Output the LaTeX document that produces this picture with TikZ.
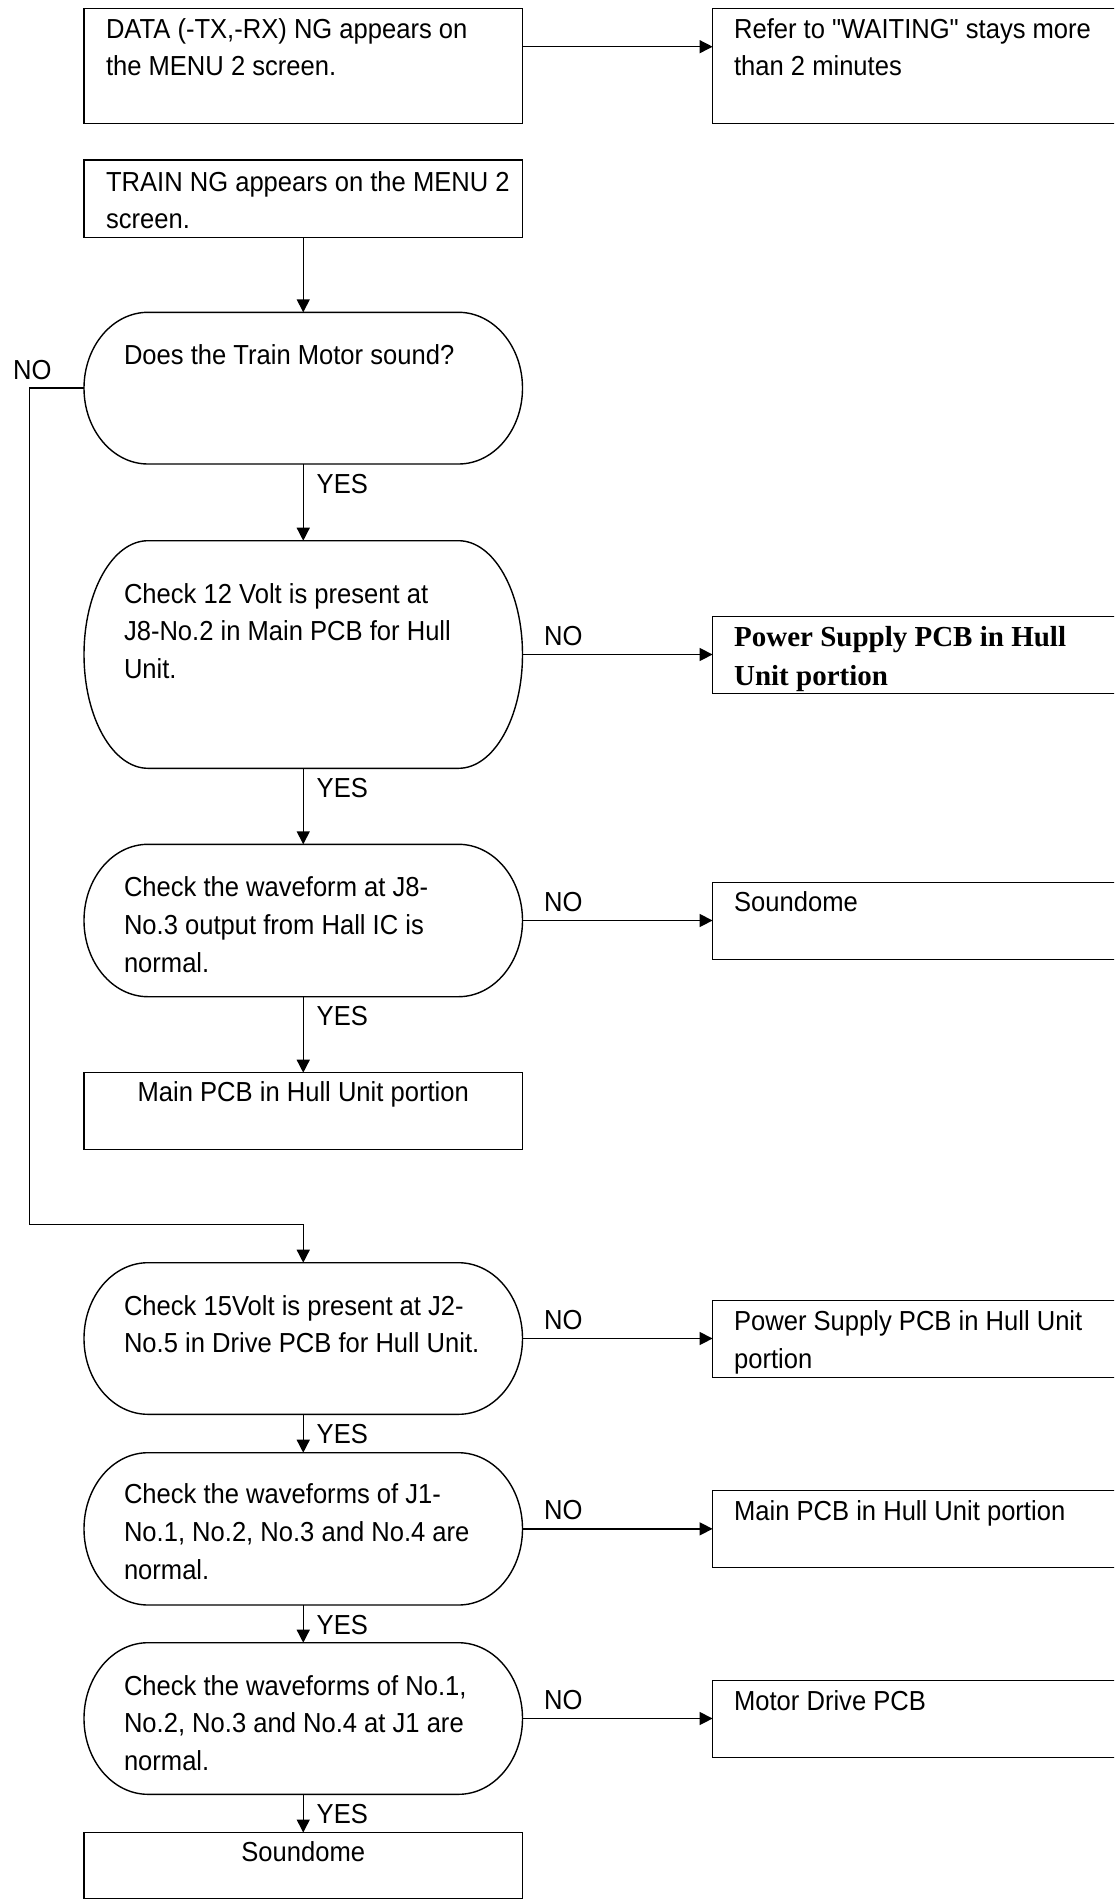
\documentclass[tikz,border=0pt]{standalone}
\usepackage{fontspec}
\setmainfont{Liberation Sans}[FakeStretch=0.93]
\newfontfamily\psfont{Liberation Serif}
% same face without the TeX input mapping, for straight quotes
\newfontfamily\rawsans{Liberation Sans}[FakeStretch=0.93]
\usetikzlibrary{arrows.meta,calc}

% top-aligned text block: height, width, drop to first baseline, lines
\newcommand\blockL[4]{\parbox[t][#1pt][t]{#2pt}{\raggedright\rule{0pt}{#3pt}#4\par}}
\newcommand\blockC[4]{\parbox[t][#1pt][t]{#2pt}{\centering\rule{0pt}{#3pt}#4\par}}
% straight double quote
\newcommand\dq{{\rawsans\char34}}

\begin{document}
\begin{tikzpicture}[x=1pt,y=1pt,
  line/.style={line width=1.4pt, black},
  arr/.style={line, -{Triangle[length=13pt,width=13pt]}},
  lines/.style={font=\fontsize{27.5}{#1}\selectfont},
  frame/.style={draw, line width=1.4pt, rectangle, anchor=north west,
    inner ysep=0pt, inner xsep=22pt, outer sep=0pt},
  fix/.style={frame, inner xsep=21.5pt},
  ask/.style={rectangle, anchor=north west, inner ysep=0pt, inner xsep=40pt, outer sep=0pt},
  tag/.style={font=\fontsize{27.5}{33}\selectfont, inner sep=0pt, anchor=base west},
  yes/.style={tag, at start, xshift=12.75pt, yshift=-29pt},
  no/.style={tag, at start, xshift=21pt, yshift=9pt},
]
\useasboundingbox (0,0) rectangle (1114,-1901);
\begin{scope}
\clip (0,0) rectangle (1114,-1901);

% ---- top row
\node[frame, lines=36.7] (data) at (84,-8.3)
  {\blockL{115}{394.5}{30}{\mbox{DATA (-TX,-RX) NG appears on}\\\mbox{the MENU 2 screen.}}};
\node[fix, lines=36.7] (refer) at (712.6,-8.3)
  {\blockL{115}{374.4}{30}{\mbox{Refer to \dq WAITING\dq\ stays more}\\\mbox{than 2 minutes}}};

\node[frame, lines=36.6] (train) at (84,-160)
  {\blockL{77.3}{394.5}{31.7}{\mbox{TRAIN NG appears on the MENU 2}\\\mbox{screen.}}};

% ---- checks (left column)
\node[ask, lines=37.5] (d1) at (84,-312.3)
  {\blockL{151.7}{358.5}{51.7}{\mbox{Does the Train Motor sound?}}};
\node[ask, lines=37.5] (d2) at (84,-540.7)
  {\blockL{227.6}{358.5}{62.6}{\mbox{Check 12 Volt is present at}\\\mbox{J8-No.2 in Main PCB for Hull}\\\mbox{Unit.}}};
\node[ask, lines=38] (d3) at (84,-844.3)
  {\blockL{152.4}{358.5}{52.4}{\mbox{Check the waveform at J8-}\\\mbox{No.3 output from Hall IC is}\\\mbox{normal.}}};
\node[frame, lines=37.5] (main1) at (84,-1072.7)
  {\blockC{76.6}{394.5}{29}{Main PCB in Hull Unit portion}};
\node[ask, lines=37.7] (d4) at (84,-1262.7)
  {\blockL{151.6}{358.5}{52.3}{\mbox{Check 15Volt is present at J2-}\\\mbox{No.5 in Drive PCB for Hull Unit.}}};
\node[ask, lines=38.3] (d5) at (84,-1452.7)
  {\blockL{152.3}{358.5}{50.6}{\mbox{Check the waveforms of J1-}\\\mbox{No.1, No.2, No.3 and No.4 are}\\\mbox{normal.}}};
\node[ask, lines=37.5] (d6) at (84,-1642.7)
  {\blockL{151.6}{358.5}{52.3}{\mbox{Check the waveforms of No.1,}\\\mbox{No.2, No.3 and No.4 at J1 are}\\\mbox{normal.}}};
\node[frame, lines=37.5] (sd2) at (84,-1832.5)
  {\blockC{66}{394.5}{29.2}{Soundome}};

% ---- outcomes (right column)
\node[fix, font={\fontsize{29}{38.3}\psfont\bfseries}] (ps1) at (712.6,-616.7)
  {\blockL{76.6}{374.4}{30}{\mbox{Power Supply PCB in Hull}\\\mbox{Unit portion}}};
\node[fix, lines=37.5] (sd1) at (712.6,-882.7)
  {\blockL{76.6}{374.4}{29}{Soundome}};
\node[fix, lines=38.3] (ps2) at (712.6,-1300.7)
  {\blockL{76.6}{374.4}{29.3}{\mbox{Power Supply PCB in Hull Unit}\\\mbox{portion}}};
\node[fix, lines=37.5] (main2) at (712.6,-1490.7)
  {\blockL{76.6}{374.4}{29.3}{\mbox{Main PCB in Hull Unit portion}}};
\node[fix, lines=37.5] (motor) at (712.6,-1680.7)
  {\blockL{77}{374.4}{29.3}{\mbox{Motor Drive PCB}}};

% ---- rounded outlines of the check nodes
\foreach \nd in {d1,d2,d3,d4,d5,d6}{
  \draw[line] let \p1=(\nd.north west), \p2=(\nd.south east), \n1={(\y1-\y2)/2} in
    (\x1+64pt,\y1) -- (\x2-64pt,\y1)
    arc[start angle=90, end angle=-90, x radius=64pt, y radius=\n1]
    -- (\x1+64pt,\y2)
    arc[start angle=270, end angle=90, x radius=64pt, y radius=\n1] -- cycle;
}

% ---- connectors
\coordinate (dout) at ($(data.east)+(0,19.1)$);
\draw[arr] (dout) -- (dout -| refer.west);
\draw[arr] (train.south) -- (d1.north);
\draw[arr] (d1.south) -- node[yes]{YES} (d2.north);
\draw[arr] (d2.south) -- node[yes]{YES} (d3.north);
\draw[arr] (d3.south) -- node[yes]{YES} (main1.north);
\draw[arr] (d4.south) -- node[yes]{YES} (d5.north);
\draw[arr] (d5.south) -- node[yes]{YES} (d6.north);
\draw[arr] (d6.south) -- node[yes]{YES} (sd2.north);

\draw[arr] (d2.east) -- node[no]{NO} (d2.east -| ps1.west);
\draw[arr] (d3.east) -- node[no]{NO} (d3.east -| sd1.west);
\draw[arr] (d4.east) -- node[no]{NO} (d4.east -| ps2.west);
\draw[arr] (d5.east) -- node[no]{NO} (d5.east -| main2.west);
\draw[arr] (d6.east) -- node[no]{NO} (d6.east -| motor.west);

\coordinate (bend) at (29.3,-1224.3);
\draw[arr] (d1.west) -- node[tag, at start, xshift=-71.5pt, yshift=9pt]{NO}
  (d1.west -| bend) -- (bend) -| (d4.north);
\end{scope}
\end{tikzpicture}
\end{document}
